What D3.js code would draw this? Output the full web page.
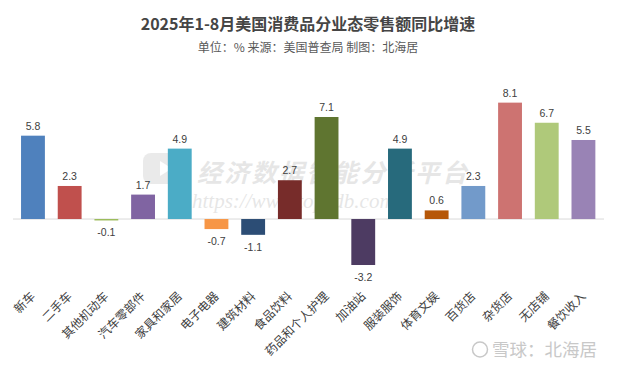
<!DOCTYPE html>
<html><head><meta charset="utf-8">
<script src="https://cdn.jsdelivr.net/npm/d3@7"></script>
<style>html,body{margin:0;padding:0;background:#fff;}svg{display:block;}</style>
</head><body>
<script>
const categories = ["新车","二手车","其他机动车","汽车零部件","家具和家居","电子电器","建筑材料","食品饮料","药品和个人护理","加油站","服装服饰","体育文娱","百货店","杂货店","无店铺","餐饮收入"];
const values = [5.8, 2.3, -0.1, 1.7, 4.9, -0.7, -1.1, 2.7, 7.1, -3.2, 4.9, 0.6, 2.3, 8.1, 6.7, 5.5];
const colors = ["#4F81BD","#C0504D","#9BBB59","#8064A2","#4BACC6","#F79646","#2C4D75","#772C2A","#5F7530","#4D3B62","#276A7C","#B65708","#729ACA","#CD7371","#AFC97A","#9983B5"];
const title = "2025年1-8月美国消费品分业态零售额同比增速";
const subtitle = "单位：% 来源：美国普查局 制图：北海居";

const W = 617, H = 368;
const font = "'Noto Sans CJK SC','Noto Sans',sans-serif";
const svg = d3.select("body").append("svg").attr("width", W).attr("height", H);

const x = d3.scaleBand().domain(categories).range([13.7, 602.7]).paddingInner(0.35).paddingOuter(0.2);
const y = d3.scaleLinear().domain([-4, 9]).range([276.5, 89.7]);

// watermark
const wm = svg.append("g").attr("opacity", 0.13);
wm.append("rect").attr("x", 143).attr("y", 153).attr("width", 37).attr("height", 31).attr("rx", 8).attr("fill", "#666");
wm.append("path").attr("d", "M160,161 L172,168.5 L160,176 Z").attr("fill", "#fff");
wm.append("text").attr("x", 197).attr("y", 182).attr("font-family", font).attr("font-size", 25).attr("font-weight", "bold")
  .attr("font-style", "italic").attr("fill", "#444").attr("textLength", 270).text("经济数据智能分析平台");
wm.append("text").attr("x", 192).attr("y", 208).attr("font-family", "'Liberation Serif',serif").attr("font-size", 21)
  .attr("font-style", "italic").attr("fill", "#444").text("https://www.topedb.com");

// baseline
svg.append("line").attr("x1", 13).attr("x2", 604).attr("y1", y(0)).attr("y2", y(0))
  .attr("stroke", "#d9d9d9").attr("stroke-width", 1);

// bars
svg.append("g").selectAll("rect").data(values).join("rect")
  .attr("x", (d, i) => x(categories[i]))
  .attr("width", x.bandwidth())
  .attr("y", d => Math.min(y(d), y(0)))
  .attr("height", d => Math.max(1, Math.abs(y(d) - y(0))))
  .attr("fill", (d, i) => colors[i]);

// value labels
svg.append("g").selectAll("text").data(values).join("text")
  .attr("x", (d, i) => x(categories[i]) + x.bandwidth() / 2)
  .attr("y", d => d >= 0 ? y(d) - 6 : y(d) + 16)
  .attr("text-anchor", "middle")
  .attr("font-family", "'Liberation Sans',Arial,sans-serif")
  .attr("font-size", 10.5).attr("fill", "#404040")
  .text(d => d.toFixed(1));

// category labels
svg.append("g").selectAll("text").data(categories).join("text")
  .attr("transform", d => `translate(${x(d) + x.bandwidth() / 2 + 3},297) rotate(-45)`)
  .attr("text-anchor", "end")
  .attr("font-family", font).attr("font-size", 12).attr("fill", "#404040")
  .text(d => d);

// title
svg.append("text").attr("x", 308).attr("y", 30).attr("text-anchor", "middle")
  .attr("font-family", font).attr("font-size", 16).attr("font-weight", "bold").attr("fill", "#454545").text(title);
svg.append("text").attr("x", 308).attr("y", 52).attr("text-anchor", "middle")
  .attr("font-family", font).attr("font-size", 12).attr("fill", "#595959").text(subtitle);

// bottom-right watermark
const br = svg.append("g").attr("fill", "#c8c8c8");
br.append("circle").attr("cx", 480).attr("cy", 349.5).attr("r", 7.5).attr("fill", "none").attr("stroke", "#c8c8c8").attr("stroke-width", 1.5);
br.append("text").attr("x", 492).attr("y", 356).attr("font-family", font).attr("font-size", 17.5).text("雪球：北海居");
</script>
</body></html>
